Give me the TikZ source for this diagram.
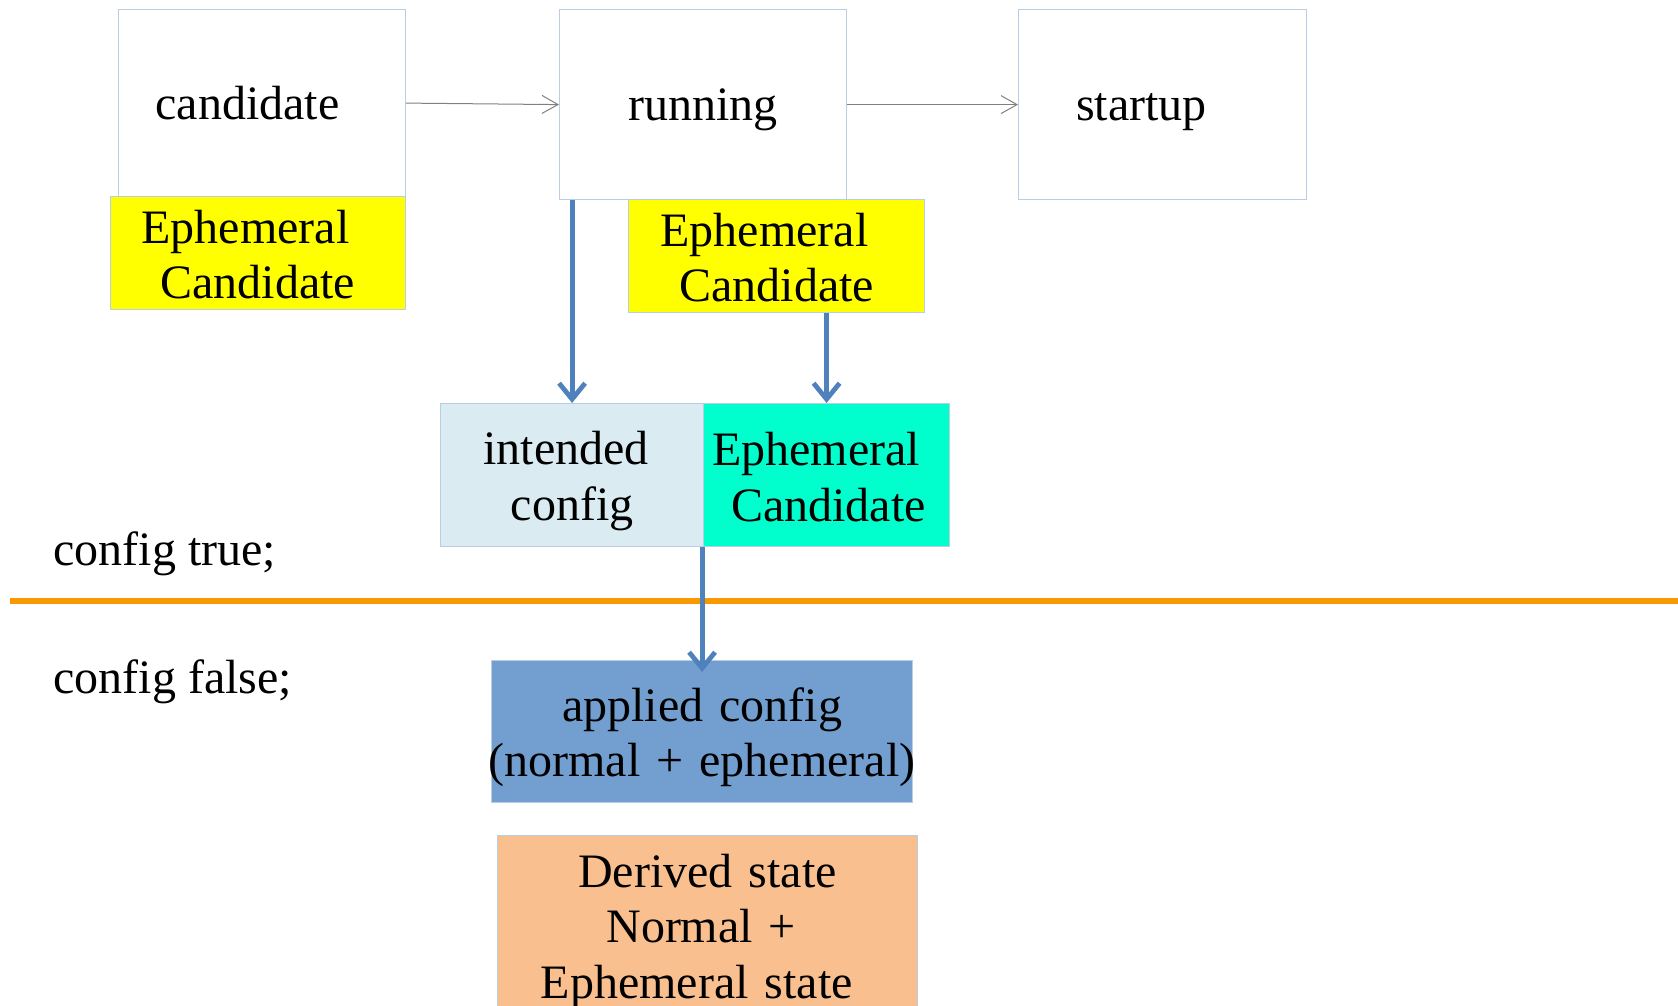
\documentclass[tikz,border=0pt]{standalone}
\usepackage{fontspec}
\setmainfont{Liberation Serif}
\usetikzlibrary{arrows.meta, positioning, calc}
\definecolor{boxline}{RGB}{185, 205, 228}
\definecolor{ephyellow}{RGB}{255, 255, 0}
\definecolor{ephcyan}{RGB}{0, 255, 204}
\definecolor{intendbg}{RGB}{218, 236, 242}
\definecolor{appliedbg}{RGB}{114, 159, 207}
\definecolor{derivedbg}{RGB}{249, 191, 143}
\definecolor{flowblue}{RGB}{79, 129, 189}
\definecolor{splitorange}{RGB}{250, 152, 0}

\tikzset{
  bigtext/.style={font=\fontsize{24}{27.8}\selectfont,
    execute at begin node={\rule[-0.216em]{0pt}{1.107em}},
    execute at end node={\rule[-0.216em]{0pt}{0.216em}}},
  textdrop/.style={execute at begin node={\rule{0pt}{#1}}},
  dsbox/.style={draw=boxline, line width=0.6pt, anchor=north west, bigtext, inner ysep=0pt},
  ephbox/.style={dsbox, align=left, textdrop=23.4pt},
  grayarrow/.style={draw=gray, line width=0.5pt, -{Straight Barb[length=8pt, width=9pt]}},
  flowarrow/.style={draw=flowblue, line width=2.4pt, -{Straight Barb[length=8pt, width=13pt]}},
  sidelabel/.style={bigtext, anchor=west, inner sep=0pt}
}

\begin{document}
\begin{tikzpicture}[x=0.5pt, y=-0.5pt]
  \clip (0, 0) rectangle (1678, 1006);

  % datastores
  \node[dsbox, fill=white, minimum height=93.5pt, align=left, inner xsep=18.5pt, text width=106.5pt] (candidate) at (118, 9) {candidate};
  \node[dsbox, fill=white, minimum width=143.5pt, minimum height=95pt, align=center] (running) at (559, 9) {running};
  \node[dsbox, fill=white, minimum height=95pt, align=left, inner xsep=28.75pt, text width=86.5pt] (startup) at (1018, 9) {startup};
  \draw[grayarrow] (candidate.east) -- (running.west);
  \draw[grayarrow] (running.east) -- (startup.west);

  % ephemeral parts
  \node[ephbox, fill=ephyellow, minimum height=56pt, inner xsep=15.5pt, text width=116.5pt] (ephcand) at (110, 196) {Ephemeral\\\hspace*{9.5pt}Candidate};
  \node[ephbox, fill=ephyellow, minimum height=55.5pt, inner xsep=16pt, text width=116pt] (ephrun) at (628, 199) {Ephemeral\\\hspace*{9.5pt}Candidate};

  % intended config (config true)
  \node[dsbox, fill=intendbg, minimum height=71.5pt, inner xsep=0pt, text width=131.5pt, align=center, textdrop=22.5pt] (intended) at (440, 403) {intended\kern6pt\\config};
  \node[ephbox, fill=ephcyan, minimum height=71.5pt, inner xsep=4.3pt, text width=114.4pt] (ephint) at (703, 403) {Ephemeral\\\hspace*{9.5pt}Candidate};
  \draw[flowarrow] (intended.north |- running.south) -- (intended.north);
  \draw[flowarrow] (ephint.north |- ephrun.south) -- (ephint.north);

  % config true / config false split
  \draw[splitorange, line width=2.8pt] (10, 601) -- (1678, 601);
  \node[sidelabel] (cfgtrue) at (53, 549) {config true;};
  \node[sidelabel] (cfgfalse) at (53, 677) {config false;};

  % operational side
  \node[dsbox, fill=appliedbg, minimum height=71pt, inner xsep=-4pt, text width=218.5pt, align=center, textdrop=22.5pt] (applied) at (491, 660) {applied config\\(normal + ephemeral)};
  \node[dsbox, fill=derivedbg, minimum height=91pt, inner xsep=0pt, text width=210pt, align=center] (derived) at (497, 835) {Derived state\\Normal +\kern6.4pt\\Ephemeral state\hspace*{10.7pt}};
  \draw[flowarrow] (applied.north |- intended.south) -- ([yshift=-6pt]applied.north);
\end{tikzpicture}
\end{document}
